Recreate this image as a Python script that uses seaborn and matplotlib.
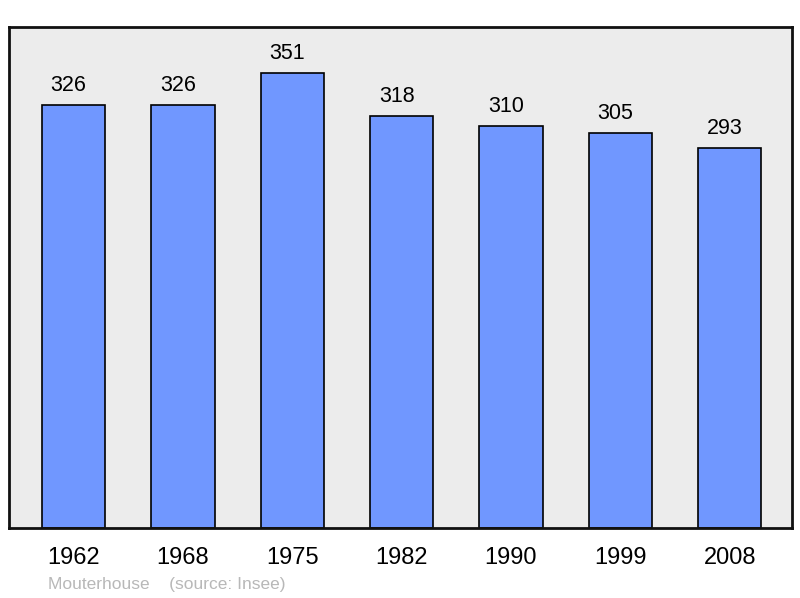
import matplotlib
matplotlib.use("Agg")
import matplotlib.pyplot as plt
import seaborn as sns
import pandas as pd

years = ["1962", "1968", "1975", "1982", "1990", "1999", "2008"]
population = [326, 326, 351, 318, 310, 305, 293]
commune = "Mouterhouse"
source = "(source: Insee)"

sns.set_theme(style="white")
plt.rcParams['font.family'] = ['Liberation Sans', 'DejaVu Sans']

df = pd.DataFrame({"year": years, "pop": population})

fig = plt.figure(figsize=(8.0, 5.98), dpi=100)
ax = fig.add_axes([9 / 800, 1 - 528 / 598, 783 / 800, 501 / 598])
ax.set_facecolor("#ececec")

sns.barplot(data=df, x="year", y="pop", color="#7097ff", saturation=1,
            width=0.58, edgecolor="black", linewidth=1.2, ax=ax)

# étiquettes au-dessus des barres, un peu décalées à gauche comme l'original
for i, v in enumerate(population):
    ax.text(i - 0.045, v + 7, str(v), ha="center", va="bottom",
            fontsize=15.5, color="black")

ax.set_ylim(0, 386.5)
ax.set_xlim(-0.59, 6.57)
ax.set_yticks([])
ax.set_xlabel("")
ax.set_ylabel("")
ax.tick_params(axis="x", length=0, labelsize=17, pad=14, colors="black")
for s in ax.spines.values():
    s.set_visible(True)
    s.set_linewidth(2)
    s.set_color("#111111")

fig.text(48 / 800, 1 - 585 / 598, commune + "    " + source, fontsize=12.5,
         color="#b8b8b8", va="center", ha="left")

fig.savefig("out.png", dpi=100)
